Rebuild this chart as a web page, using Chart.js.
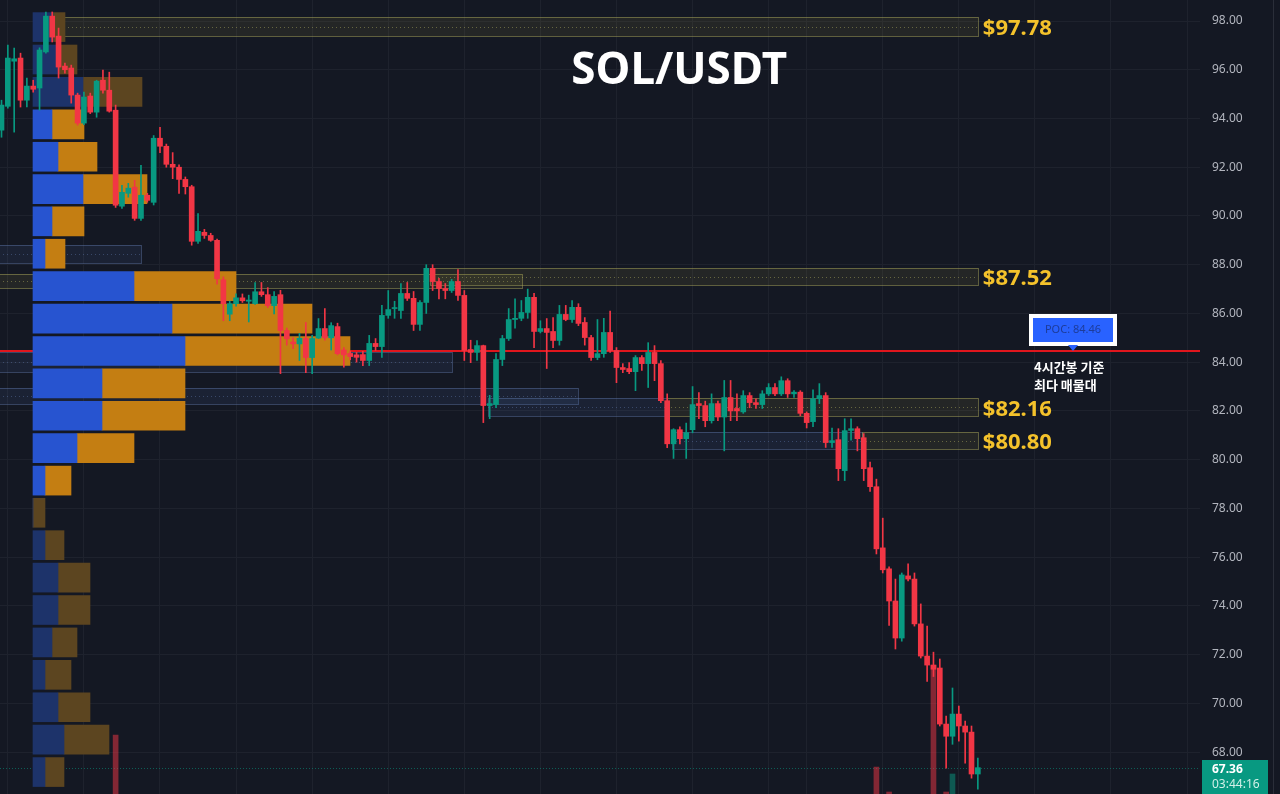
<!DOCTYPE html>
<html>
<head>
<meta charset="utf-8">
<script src="https://cdn.jsdelivr.net/npm/chart.js@4.4.1/dist/chart.umd.min.js"></script>
<style>
  html, body { margin: 0; padding: 0; background: #141823; }
  #wrap { width: 1280px; height: 794px; }
</style>
</head>
<body>
<div id="wrap"><canvas id="chart" width="1280" height="794"></canvas></div>
<script>
// SOL/USDT 4h candles, oldest first (index = candle number)
const opens = [
  93.52, 94.5, 96.35, 96.48, 94.75, 95.33, 95.25, 96.73, 98.2, 97.38,
  96.15, 96.07, 94.96, 93.81, 94.92, 94.26, 95.57, 95.16, 94.34, 90.4,
  90.93, 91.18, 89.9, 90.85, 90.56, 93.19, 92.86, 92.12, 92.0, 91.5,
  91.2, 88.96, 89.33, 89.2, 89.0, 87.38, 85.97, 86.4, 86.64, 86.5,
  86.4, 86.89, 86.77, 86.32, 86.77, 85.3, 84.83, 84.75, 84.97, 84.19,
  84.99, 85.38, 85.0, 85.46, 84.5, 84.36, 84.3, 84.31, 84.07, 84.77,
  84.64, 85.92, 86.2, 86.12, 86.82, 86.62, 85.55, 86.45, 87.85, 87.31,
  87.02, 86.94, 87.31, 86.74, 84.52, 84.4, 84.68, 82.22, 82.26, 84.11,
  84.97, 85.75, 85.8, 86.04, 86.66, 85.26, 85.38, 85.26, 84.89, 85.96,
  85.75, 86.25, 85.63, 85.01, 84.19, 84.35, 85.22, 84.48, 83.78, 83.74,
  83.61, 84.19, 83.94, 84.4, 83.94, 82.42, 80.65, 81.23, 80.86, 81.23,
  82.3, 82.22, 81.6, 82.3, 81.75, 82.55, 82.1, 81.96, 82.63, 82.34,
  82.26, 82.7, 82.96, 82.7, 83.24, 82.7, 82.77, 81.9, 81.56, 82.5,
  82.63, 80.7, 80.82, 79.55, 81.2, 81.27, 80.9, 79.67, 78.89, 76.38,
  75.52, 74.2, 72.68, 75.23, 75.1, 73.26, 71.94, 71.57, 71.45, 69.15,
  68.65, 69.56, 69.07, 68.82, 67.1
];
const highs = [
  94.75, 97.01, 96.89, 96.68, 95.66, 95.57, 96.9, 98.37, 98.37, 97.71,
  96.27, 96.19, 95.04, 95.08, 95.04, 95.57, 95.99, 95.9, 94.55, 91.26,
  91.34, 91.46, 92.08, 90.93, 93.3, 93.64, 92.95, 92.6, 92.1, 91.6,
  91.26, 90.1, 89.45, 89.29, 89.05, 87.5, 86.5, 86.8, 86.8, 86.75,
  87.27, 87.27, 87.06, 86.9, 86.95, 85.4, 85.0, 85.18, 85.63, 85.1,
  85.79, 86.2, 85.62, 85.6, 84.6, 84.45, 84.4, 84.45, 85.1, 84.97,
  86.33, 86.94, 86.5, 87.23, 87.27, 86.9, 86.53, 88.0, 88.0, 87.44,
  87.23, 87.4, 87.8, 86.94, 84.9, 84.89, 84.7, 82.64, 84.35, 85.1,
  86.2, 86.6, 86.53, 87.0, 86.82, 85.7, 85.79, 85.83, 86.33, 86.33,
  86.53, 86.4, 85.83, 85.1, 85.75, 85.8, 86.1, 84.6, 83.94, 83.98,
  84.27, 84.27, 84.8, 84.68, 84.07, 82.7, 81.27, 81.35, 81.5, 83.0,
  82.75, 82.4, 82.7, 82.4, 83.25, 83.25, 82.7, 82.83, 82.75, 82.5,
  82.83, 83.12, 83.12, 83.4, 83.32, 82.83, 82.83, 81.96, 82.87, 83.12,
  82.75, 81.3, 81.27, 81.68, 81.68, 81.35, 81.07, 79.9, 79.2, 77.6,
  75.6, 75.1, 75.35, 75.72, 75.35, 74.08, 73.17, 72.1, 71.82, 69.48,
  70.63, 69.89, 69.27, 69.07, 67.75
];
const lows = [
  93.23, 94.42, 93.44, 94.47, 94.47, 95.08, 94.34, 96.68, 97.14, 95.66,
  95.86, 94.63, 93.73, 93.75, 94.2, 94.05, 95.04, 94.26, 90.35, 90.31,
  90.77, 89.82, 89.82, 90.56, 90.45, 92.6, 92.0, 91.53, 90.93, 90.9,
  88.8, 88.87, 89.08, 88.96, 87.2, 85.7, 85.7, 86.3, 86.45, 85.65,
  86.37, 86.7, 86.24, 85.98, 83.53, 84.7, 84.55, 84.07, 83.57, 83.53,
  84.97, 84.9, 84.5, 84.3, 83.8, 84.1, 84.0, 83.86, 83.86, 84.48,
  84.2, 85.8, 85.8, 85.8, 86.53, 85.3, 85.3, 86.0, 86.94, 86.6,
  86.6, 86.86, 86.53, 84.07, 83.98, 84.07, 81.52, 81.68, 82.13, 83.86,
  84.89, 85.4, 85.7, 85.8, 84.6, 85.2, 83.74, 84.6, 84.7, 85.7,
  85.63, 85.5, 84.7, 84.07, 84.1, 84.2, 84.4, 83.16, 83.57, 83.53,
  82.83, 83.66, 82.96, 83.24, 82.34, 80.49, 80.05, 80.65, 80.05, 81.1,
  81.68, 81.35, 81.5, 81.6, 80.36, 81.6, 81.6, 81.9, 82.13, 82.1,
  82.1, 82.63, 82.63, 82.63, 82.55, 82.55, 81.8, 81.3, 81.35, 82.3,
  80.5, 80.5, 79.14, 79.14, 80.8, 80.36, 79.14, 78.7, 76.13, 75.35,
  73.2, 72.23, 72.55, 75.02, 73.17, 71.86, 70.9, 71.1, 69.07, 67.34,
  68.32, 68.45, 67.55, 66.93, 66.48
];
const closes = [
  94.55, 96.48, 96.45, 94.75, 95.33, 95.2, 96.81, 98.2, 97.34, 96.11,
  96.0, 94.96, 93.81, 94.88, 94.26, 95.53, 95.16, 94.3, 90.44, 90.97,
  91.14, 89.9, 90.85, 90.64, 93.19, 92.86, 92.12, 92.0, 91.5, 91.2,
  88.96, 89.37, 89.2, 89.0, 87.42, 86.4, 86.4, 86.64, 86.52, 86.55,
  86.89, 86.77, 86.32, 86.7, 85.3, 84.96, 84.75, 84.98, 84.19, 84.97,
  85.38, 85.0, 85.5, 84.35, 84.3, 84.23, 84.2, 84.07, 84.77, 84.64,
  85.92, 86.16, 86.22, 86.82, 86.62, 85.55, 86.45, 87.85, 87.31, 87.02,
  86.94, 87.31, 86.74, 84.48, 84.4, 84.68, 82.22, 82.3, 84.11, 84.97,
  85.75, 85.8, 86.04, 86.66, 85.26, 85.38, 85.22, 84.89, 85.96, 85.75,
  86.25, 85.59, 85.01, 84.19, 84.35, 85.22, 84.48, 83.78, 83.7, 83.61,
  84.19, 83.94, 84.4, 83.94, 82.42, 80.65, 81.23, 80.86, 81.11, 82.26,
  82.22, 81.6, 82.3, 81.75, 82.55, 82.0, 82.0, 82.63, 82.34, 82.26,
  82.7, 82.96, 82.7, 83.24, 82.7, 82.77, 81.9, 81.52, 82.5, 82.63,
  80.7, 80.78, 79.63, 81.19, 81.27, 80.86, 79.63, 78.89, 76.34, 75.48,
  74.2, 72.68, 75.27, 75.1, 73.26, 71.94, 71.57, 71.4, 69.15, 68.65,
  69.56, 69.07, 68.82, 67.1, 67.36
];

// volume bars: only the few that reach into the visible window
const volumeIdx = [18, 138, 140, 147, 149, 150];
const volumeVals = [159, 127, 102, 229, 102, 120];

// volume profile rows (price level, buy volume, sell volume)
const profileLevels = [97.75, 96.42, 95.09, 93.76, 92.43, 91.1, 89.78, 88.45, 87.12, 85.79, 84.46, 83.13,
                       81.8, 80.47, 79.14, 77.82, 76.49, 75.16, 73.83, 72.5, 71.17, 69.84, 68.51, 67.18];
const profileBuy  = [20, 25, 50, 19, 25, 50, 19, 12, 101, 139, 152, 69, 69, 44, 12, 0, 12, 25, 25, 19, 12, 25, 31, 12];
const profileSell = [12, 19, 59, 32, 39, 64, 32, 20, 102, 140, 165, 83, 83, 57, 26, 12, 19, 32, 32, 25, 26, 32, 45, 19];
const valueAreaRows = [3, 14]; // first and last row inside the value area

// support / resistance zones (candle index range, price range)
const zoneFrom = [8, -1, -1, 67.6, -1, -1, 76.7, 105, 105.8, 135.7];
const zoneTo   = [154, 22, 82.1, 154, 71, 91, 105, 154, 135.7, 154];
const zoneLow  = [97.4, 88.05, 87.03, 87.17, 83.61, 82.3, 81.81, 81.81, 80.45, 80.45];
const zoneHigh = [98.16, 88.79, 87.6, 87.87, 84.4, 82.92, 82.51, 82.51, 81.15, 81.15];
const zoneType = ['res', 'sup', 'res', 'res', 'sup', 'sup', 'sup', 'res', 'sup', 'res'];
const levelLabels = [97.78, 87.52, 82.16, 80.80];

const pocPrice = 84.46;
const lastPrice = 67.36;
const countdown = '03:44:16';
const priceTicks = [68, 70, 72, 74, 76, 78, 80, 82, 84, 86, 88, 90, 92, 94, 96, 98];
const gridIdx = [1, 13, 25, 37, 49, 61, 73, 85, 97, 109, 121, 127, 139, 151, 163, 175, 187];

const RED = '#f23645';
const GREEN = '#089981';
const GRID = '#1e222d';
const GOLD = '#f4c22b';

const idx = opens.map((_, i) => i);
const candleColors = idx.map(i => closes[i] >= opens[i] ? GREEN : RED);
const inVA = k => k >= valueAreaRows[0] && k <= valueAreaRows[1];

const zonesPlugin = {
  id: 'zones',
  beforeDatasetsDraw(chart) {
    const {ctx, chartArea: a, scales: {x, y}} = chart;
    ctx.save();
    ctx.beginPath();
    ctx.rect(a.left, a.top, a.width, a.height);
    ctx.clip();
    zoneFrom.forEach((from, k) => {
      const x0 = Math.round(x.getPixelForValue(from));
      const x1 = Math.round(x.getPixelForValue(zoneTo[k]));
      const y0 = Math.round(y.getPixelForValue(zoneHigh[k]));
      const y1 = Math.round(y.getPixelForValue(zoneLow[k]));
      const res = zoneType[k] === 'res';
      ctx.fillStyle = res ? 'rgba(150,140,60,0.13)' : 'rgba(80,110,170,0.13)';
      ctx.fillRect(x0, y0, x1 - x0, y1 - y0);
      ctx.strokeStyle = res ? 'rgba(170,165,90,0.5)' : 'rgba(95,120,170,0.45)';
      ctx.lineWidth = 1;
      ctx.strokeRect(x0 + 0.5, y0 + 0.5, x1 - x0, y1 - y0);
      ctx.setLineDash([1, 3]);
      ctx.beginPath();
      const ym = Math.round((y0 + y1) / 2) + 0.5;
      ctx.moveTo(x0, ym);
      ctx.lineTo(x1, ym);
      ctx.stroke();
      ctx.setLineDash([]);
    });
    // last price dotted line
    const py = Math.round(y.getPixelForValue(lastPrice)) + 0.5;
    ctx.strokeStyle = 'rgba(8,153,129,0.55)';
    ctx.setLineDash([1, 2]);
    ctx.beginPath();
    ctx.moveTo(a.left, py);
    ctx.lineTo(a.right, py);
    ctx.stroke();
    ctx.restore();
  }
};

const labelsPlugin = {
  id: 'labels',
  afterDraw(chart) {
    const {ctx, chartArea: a, scales: {x, y}} = chart;
    ctx.save();

    // level labels at the end of the zones
    ctx.font = 'bold 22px "Noto Sans"';
    ctx.fillStyle = GOLD;
    ctx.textAlign = 'left';
    ctx.textBaseline = 'alphabetic';
    const lx = x.getPixelForValue(idx[idx.length - 1]) + 5;
    levelLabels.forEach(p => {
      ctx.fillText('$' + p.toFixed(2), lx, y.getPixelForValue(p) + 9);
    });

    // title
    ctx.fillStyle = '#ffffff';
    ctx.font = 'bold 44px "Noto Sans"';
    ctx.textAlign = 'center';
    ctx.fillText('SOL/USDT', a.left + a.width * 0.566, 84);

    // POC marker
    const cx = Math.round(x.getPixelForValue(169));
    const tipY = Math.round(y.getPixelForValue(pocPrice));
    ctx.fillStyle = '#ffffff';
    ctx.fillRect(cx - 44, tipY - 37, 88, 32);
    ctx.fillStyle = '#2962ff';
    ctx.fillRect(cx - 40, tipY - 33, 80, 24);
    ctx.beginPath();
    ctx.moveTo(cx - 5, tipY - 6);
    ctx.lineTo(cx + 5, tipY - 6);
    ctx.lineTo(cx, tipY);
    ctx.closePath();
    ctx.fill();
    ctx.fillStyle = '#1d3c9a';
    ctx.font = '11px "Noto Sans"';
    ctx.textBaseline = 'middle';
    ctx.fillText('POC: ' + pocPrice.toFixed(2), cx, tipY - 21);

    ctx.fillStyle = '#ffffff';
    ctx.font = 'bold 13px "Noto Sans CJK KR"';
    ctx.textAlign = 'left';
    ctx.fillText('4시간봉 기준', cx - 39, tipY + 16);
    ctx.fillText('최다 매물대', cx - 39, tipY + 34);

    // last price tag on the price scale
    const py = Math.round(y.getPixelForValue(lastPrice));
    ctx.fillStyle = GREEN;
    ctx.fillRect(a.right + 2, py - 8, 66, 34);
    ctx.fillStyle = '#ffffff';
    ctx.font = 'bold 12px "Noto Sans"';
    ctx.fillText(lastPrice.toFixed(2), a.right + 12, py + 2);
    ctx.fillStyle = '#d2f0e8';
    ctx.font = '12px "Noto Sans"';
    ctx.fillText(countdown, a.right + 12, py + 17);

    // price scale right edge
    ctx.fillStyle = '#2a2e39';
    ctx.fillRect(1273, 0, 1, chart.height);
    ctx.restore();
  }
};

new Chart(document.getElementById('chart'), {
  data: {
    datasets: [
      {
        type: 'bar',
        label: 'body',
        data: idx.map(i => ({x: i, y: [opens[i], closes[i]]})),
        backgroundColor: candleColors,
        barThickness: 5,
        minBarLength: 1,
        grouped: false,
        xAxisID: 'x',
        yAxisID: 'y',
        order: 1
      },
      {
        type: 'bar',
        label: 'wick',
        data: idx.map(i => ({x: i, y: [lows[i], highs[i]]})),
        backgroundColor: candleColors,
        barThickness: 1,
        grouped: false,
        xAxisID: 'x',
        yAxisID: 'y',
        order: 2
      },
      {
        type: 'bar',
        label: 'volume',
        data: volumeIdx.map((i, k) => ({x: i, y: volumeVals[k]})),
        backgroundColor: volumeIdx.map(i => closes[i] >= opens[i] ? 'rgba(8,153,129,0.5)' : 'rgba(242,54,69,0.5)'),
        barThickness: 5,
        grouped: false,
        xAxisID: 'x',
        yAxisID: 'yv',
        order: 3
      },
      {
        type: 'bar',
        label: 'profile buy',
        indexAxis: 'y',
        data: profileLevels.map((p, k) => ({y: p, x: [0, profileBuy[k]]})),
        backgroundColor: profileLevels.map((_, k) => inVA(k) ? '#2754d0' : '#1d336a'),
        barThickness: 29,
        grouped: false,
        xAxisID: 'xp',
        yAxisID: 'y',
        order: 5
      },
      {
        type: 'bar',
        label: 'profile sell',
        indexAxis: 'y',
        data: profileLevels.map((p, k) => ({y: p, x: [profileBuy[k], profileBuy[k] + profileSell[k]]})),
        backgroundColor: profileLevels.map((_, k) => inVA(k) ? '#c47e12' : '#5c4520'),
        barThickness: 29,
        grouped: false,
        xAxisID: 'xp',
        yAxisID: 'y',
        order: 5
      },
      {
        type: 'line',
        label: 'POC',
        data: [{x: -1, y: pocPrice}, {x: 200, y: pocPrice}],
        borderColor: '#e0161d',
        borderWidth: 2,
        pointRadius: 0,
        xAxisID: 'x',
        yAxisID: 'y',
        order: 9
      }
    ]
  },
  options: {
    responsive: false,
    animation: false,
    devicePixelRatio: 1,
    events: [],
    layout: { padding: 0 },
    plugins: {
      legend: { display: false },
      tooltip: { enabled: false }
    },
    scales: {
      x: {
        type: 'linear',
        position: 'bottom',
        offset: false,
        min: -0.2366,
        max: 189.04,
        grid: { color: GRID, drawTicks: false, offset: false },
        border: { display: false },
        ticks: { display: false },
        afterBuildTicks: s => { s.ticks = gridIdx.map(v => ({value: v})); },
        afterFit: s => { s.height = 0; s.paddingLeft = 0; s.paddingRight = 0; }
      },
      xp: {
        type: 'linear',
        position: 'bottom',
        display: false,
        offset: false,
        min: -33,
        max: 1167
      },
      y: {
        type: 'linear',
        position: 'right',
        offset: false,
        min: 66.28,
        max: 98.862,
        grid: { color: GRID, drawTicks: false, offset: false },
        border: { display: false },
        ticks: {
          color: '#b2b5be',
          padding: 12,
          font: { family: 'Noto Sans', size: 12 },
          callback: v => v.toFixed(2)
        },
        afterBuildTicks: s => { s.ticks = priceTicks.map(v => ({value: v})); },
        afterFit: s => { s.width = 80; s.paddingTop = 0; s.paddingBottom = 0; }
      },
      yv: {
        type: 'linear',
        position: 'right',
        display: false,
        offset: false,
        min: 100,
        max: 894
      }
    }
  },
  plugins: [zonesPlugin, labelsPlugin]
});
</script>
</body>
</html>
